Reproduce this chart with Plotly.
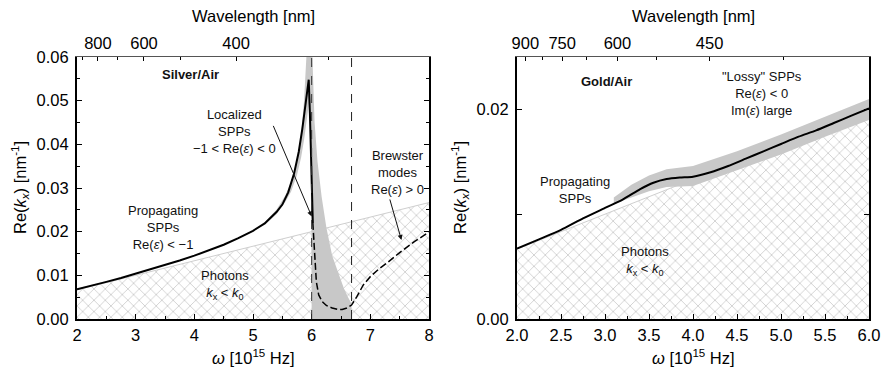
import plotly.graph_objects as go

W, H = 883, 371
FONT = "Liberation Sans, Arial, Helvetica, sans-serif"

# ---------------- data: Silver / Air ----------------
ag_omega = [2.0, 2.25, 2.5, 2.75, 3.0, 3.25, 3.5, 3.75, 4.0, 4.25, 4.5, 4.75,
            5.0, 5.2, 5.4, 5.5, 5.6, 5.7, 5.78, 5.84, 5.89, 5.93, 5.95, 5.97,
            5.99, 6.01, 6.02]
ag_k = [0.0068, 0.0076, 0.0085, 0.0094, 0.0104, 0.0113, 0.0123, 0.0134, 0.0145,
        0.0157, 0.0170, 0.0185, 0.0202, 0.0219, 0.0245, 0.0262, 0.0290, 0.0333,
        0.0383, 0.0435, 0.0490, 0.0535, 0.0548, 0.0470, 0.0360, 0.0270, 0.0220]

ag_dash_omega = [6.02, 6.05, 6.08, 6.12, 6.18, 6.25, 6.35, 6.45, 6.52, 6.6, 6.68,
                 6.77, 6.88, 7.0, 7.15, 7.3, 7.5, 7.75, 8.0]
ag_dash_k = [0.0220, 0.0140, 0.0085, 0.0055, 0.0040, 0.0031, 0.0025, 0.0022,
             0.0022, 0.0025, 0.0032, 0.0051, 0.0078, 0.0097, 0.0115, 0.0130,
             0.0152, 0.0177, 0.0199]

ag_band_omega = [5.2, 5.4, 5.55, 5.65, 5.75, 5.82, 5.87, 5.9, 5.93, 5.96, 5.98,
                 5.995, 6.0, 6.05, 6.1, 6.17, 6.25, 6.35, 6.45, 6.55, 6.62, 6.68]
ag_band_upper = [0.0222, 0.0250, 0.0283, 0.0314, 0.0362, 0.0420, 0.0500, 0.0590,
                 0.0650, 0.0650, 0.0650, 0.0650, 0.0650, 0.0450, 0.0360, 0.0280,
                 0.0210, 0.0145, 0.0105, 0.0070, 0.0050, 0.0035]
ag_band_lower = [0.0216, 0.0240, 0.0268, 0.0292, 0.0330, 0.0370, 0.0410, 0.0440,
                 0.0470, 0.0500, 0.0360, 0.0200, 0.0, 0.0, 0.0, 0.0, 0.0, 0.0,
                 0.0, 0.0, 0.0, 0.0]

ag_light_omega = [2.0, 8.0]
ag_light_k = [0.00667, 0.02667]

ag_wl_major = [800, 600, 400]
ag_wl_minor = [900, 700, 500, 300]
ag_sp_omega = 6.0       # Re(eps) = -1
ag_p_omega = 6.68       # Re(eps) = 0

# ---------------- data: Gold / Air ----------------
au_omega = [2.0, 2.25, 2.5, 2.75, 3.0, 3.2, 3.4, 3.55, 3.7, 3.85, 4.0, 4.2, 4.4,
            4.6, 4.8, 5.0, 5.2, 5.4, 5.6, 5.8, 6.0]
au_k = [0.00673, 0.0076, 0.0085, 0.0096, 0.0106, 0.0114, 0.0124, 0.0130, 0.01335,
        0.0135, 0.01358, 0.0140, 0.0146, 0.0153, 0.0160, 0.0167, 0.0174, 0.0180,
        0.0187, 0.0194, 0.0201]

au_band_omega = [3.1, 3.3, 3.5, 3.7, 4.0, 4.5, 5.0, 5.5, 6.0]
au_band_upper = [0.0116, 0.0128, 0.0137, 0.0143, 0.0146, 0.0160, 0.0176, 0.0193, 0.0210]
au_band_lower = [0.0110, 0.0116, 0.0122, 0.0126, 0.0127, 0.0142, 0.0157, 0.0174, 0.0190]

au_light_omega = [2.0, 6.0]
au_light_k = [0.00667, 0.0200]

au_wl_major = [900, 750, 600, 450]
au_wl_minor = [825, 675, 525, 375]

C_NM = 1884.96  # omega[1e15 Hz] = 2*pi*c / lambda[nm]


def wl_to_omega(wl):
    return [C_NM / w for w in wl]


fig = go.Figure()

HATCH = dict(shape="x", fgcolor="#a8a8a8", bgcolor="white", size=8,
             solidity=0.12, fillmode="replace")
BAND = "rgb(200,200,200)"


def add_panel(xa, ya, light_x, light_y, bx, bl, bu):
    fig.add_trace(go.Scatter(x=light_x, y=light_y, xaxis=xa, yaxis=ya, mode="lines",
                             line=dict(color="#cfcfcf", width=1), fill="tozeroy",
                             fillpattern=HATCH, hoverinfo="skip", showlegend=False))
    fig.add_trace(go.Scatter(x=bx, y=bl, xaxis=xa, yaxis=ya, mode="lines",
                             line=dict(width=0, color=BAND), hoverinfo="skip",
                             showlegend=False))
    fig.add_trace(go.Scatter(x=bx, y=bu, xaxis=xa, yaxis=ya, mode="lines",
                             line=dict(width=0, color=BAND), fill="tonexty",
                             fillcolor=BAND, hoverinfo="skip", showlegend=False))


add_panel("x", "y", ag_light_omega, ag_light_k, ag_band_omega, ag_band_lower, ag_band_upper)
fig.add_trace(go.Scatter(x=ag_omega, y=ag_k, mode="lines", xaxis="x", yaxis="y",
                         line=dict(color="black", width=2), showlegend=False))
fig.add_trace(go.Scatter(x=ag_dash_omega, y=ag_dash_k, mode="lines", xaxis="x", yaxis="y",
                         line=dict(color="black", width=1.5, dash="7px,3px"),
                         showlegend=False))

add_panel("x2", "y2", au_light_omega, au_light_k, au_band_omega, au_band_lower, au_band_upper)
fig.add_trace(go.Scatter(x=au_omega, y=au_k, mode="lines", xaxis="x2", yaxis="y2",
                         line=dict(color="black", width=2, shape="spline", smoothing=0.6),
                         showlegend=False))

# invisible traces so the top wavelength axes are drawn
fig.add_trace(go.Scatter(x=ag_omega, y=ag_k, xaxis="x3", yaxis="y", mode="lines",
                         line=dict(width=0), opacity=0, hoverinfo="skip", showlegend=False))
fig.add_trace(go.Scatter(x=au_omega, y=au_k, xaxis="x4", yaxis="y2", mode="lines",
                         line=dict(width=0), opacity=0, hoverinfo="skip", showlegend=False))

# vertical dashed lines
for xv, col in [(ag_sp_omega, "#333333"), (ag_p_omega, "#222222")]:
    fig.add_shape(type="line", xref="x", yref="y domain", x0=xv, x1=xv, y0=0, y1=1,
                  line=dict(color=col, width=1, dash="dash"))

xl = [77 / W, 429 / W]
xr = [517 / W, 869 / W]
yd = [1 - 319 / H, 1 - 57 / H]
TICKF = dict(family=FONT, size=16.5, color="black")

common_x = dict(showgrid=False, zeroline=False, showline=True, linecolor="black",
                linewidth=2, ticks="inside", ticklen=5, tickwidth=1.2,
                tickcolor="black", tickfont=TICKF, mirror=False, automargin=False,
                ticklabelstandoff=0)
common_y = dict(showgrid=False, zeroline=False, showline=True, linecolor="black",
                linewidth=2, ticks="inside", ticklen=5, tickwidth=1.2,
                tickcolor="black", tickfont=TICKF, mirror="ticks", tickformat=".2f",
                automargin=False, ticklabelstandoff=3)
common_top = dict(side="top", showgrid=False, zeroline=False, showline=True,
                  linecolor="#555", linewidth=1, ticks="inside", ticklen=4,
                  tickcolor="black", tickmode="array", tickfont=TICKF,
                  automargin=False, ticklabelstandoff=0)

fig.update_layout(
    width=W, height=H, margin=dict(l=0, r=0, t=0, b=0, autoexpand=False),
    paper_bgcolor="white", plot_bgcolor="white",
    font=dict(family=FONT, color="black"),
    xaxis=dict(domain=xl, range=[2, 8], anchor="y", dtick=1,
               minor=dict(ticks="inside", dtick=0.5, ticklen=3, tickcolor="black"),
               **common_x),
    yaxis=dict(domain=yd, range=[0, 0.06], anchor="x", dtick=0.01,
               minor=dict(ticks="inside", dtick=0.005, ticklen=3, tickcolor="black"),
               **common_y),
    xaxis2=dict(domain=xr, range=[2, 6], anchor="y2", dtick=0.5, tickformat=".1f",
                minor=dict(ticks="inside", dtick=0.25, ticklen=3, tickcolor="black"),
                **common_x),
    yaxis2=dict(domain=yd, range=[0, 0.025], anchor="x2", dtick=0.02,
                minor=dict(ticks="inside", dtick=0.01, ticklen=5, tickcolor="black"),
                **common_y),
    xaxis3=dict(overlaying="x", anchor="y", range=[2, 8],
                tickvals=wl_to_omega(ag_wl_major),
                ticktext=[str(w) for w in ag_wl_major],
                minor=dict(ticks="inside", tickmode="array",
                           tickvals=wl_to_omega(ag_wl_minor), ticklen=3,
                           tickcolor="black"),
                **common_top),
    xaxis4=dict(overlaying="x2", anchor="y2", range=[2, 6],
                tickvals=wl_to_omega(au_wl_major),
                ticktext=[str(w) for w in au_wl_major],
                minor=dict(ticks="inside", tickmode="array",
                           tickvals=wl_to_omega(au_wl_minor), ticklen=3,
                           tickcolor="black"),
                **common_top),
)

ann = []


def txt(x, y, t, xref, yref, size=13, bold=False):
    ann.append(dict(x=x, y=y, xref=xref, yref=yref, text=("<b>%s</b>" % t) if bold else t,
                    showarrow=False, font=dict(family=FONT, size=size, color="#111111"),
                    align="center", xanchor="center", yanchor="middle"))


# left panel text
txt(3.93, 0.0560, "Silver/Air", "x", "y", bold=True)
txt(4.69, 0.0429, "Localized<br>SPPs<br>−1 &lt; Re(<i>ε</i>) &lt; 0", "x", "y")
txt(3.47, 0.0209, "Propagating<br>SPPs<br>Re(<i>ε</i>) &lt; −1", "x", "y")
txt(4.52, 0.0078, "Photons<br><i>k</i><sub>x</sub> &lt; <i>k</i><sub>0</sub>", "x", "y")
txt(7.47, 0.0335, "Brewster<br>modes<br>Re(<i>ε</i>) &gt; 0", "x", "y")

# right panel text
txt(3.02, 0.0227, "Gold/Air", "x2", "y2", bold=True)
txt(4.78, 0.0215, "\"Lossy\" SPPs<br>Re(<i>ε</i>) &lt; 0<br>Im(<i>ε</i>) large", "x2", "y2")
txt(2.66, 0.0123, "Propagating<br>SPPs", "x2", "y2")
txt(3.45, 0.0055, "Photons<br><i>k</i><sub>x</sub> &lt; <i>k</i><sub>0</sub>", "x2", "y2")

# arrows
ann.append(dict(x=6.0, y=0.0235, xref="x", yref="y", ax=-39, ay=-92, showarrow=True,
                arrowhead=2, arrowsize=1, arrowwidth=1, arrowcolor="#111", text=""))
ann.append(dict(x=7.53, y=0.0181, xref="x", yref="y", ax=-12, ay=-42, showarrow=True,
                arrowhead=2, arrowsize=1, arrowwidth=1, arrowcolor="#111", text=""))

# axis titles
TF = dict(family=FONT, size=16.5, color="black")
for cx in [253 / W, 693 / W]:
    ann.append(dict(x=cx, y=1 - 357 / H, xref="paper", yref="paper",
                    text="<i>ω</i> [10<sup>15</sup> Hz]", showarrow=False, font=TF,
                    xanchor="center", yanchor="middle"))
    ann.append(dict(x=cx, y=1 - 16 / H, xref="paper", yref="paper",
                    text="Wavelength [nm]", showarrow=False, font=TF,
                    xanchor="center", yanchor="middle"))
for cx in [20 / W, 460 / W]:
    ann.append(dict(x=cx, y=1 - 188 / H, xref="paper", yref="paper",
                    text="Re(<i>k</i><sub><i>x</i></sub>) [nm<sup>-1</sup>]",
                    showarrow=False, font=TF, textangle=-90,
                    xanchor="center", yanchor="middle"))

fig.update_layout(annotations=ann)
fig.write_html("out.html")
